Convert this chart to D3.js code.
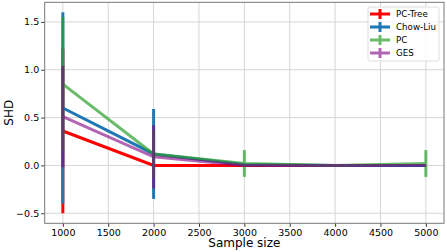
<!DOCTYPE html>
<html>
<head>
<meta charset="utf-8">
<script src="https://cdn.jsdelivr.net/npm/d3@7"></script>
<style>
  body { margin: 0; background: #fff; }
  svg { display: block; font-family: "DejaVu Sans", sans-serif; }
</style>
</head>
<body>
<svg id="chart" width="447" height="252"></svg>
<script>
// values
var sampleSizes = [1000, 2000, 3000, 4000, 5000];
var pcTreeMean = [0.36, 0.0, 0.0, 0.0, 0.0];
var pcTreeErr = [0.86, 0.0, 0.0, 0.0, 0.0];
var chowLiuMean = [0.60, 0.12, 0.01, 0.0, 0.0];
var chowLiuErr = [1.00, 0.47, 0.0, 0.0, 0.0];
var pcMean = [0.85, 0.12, 0.02, 0.0, 0.02];
var pcErr = [0.70, 0.25, 0.14, 0.0, 0.14];
var gesMean = [0.51, 0.09, 0.0, 0.0, 0.0];
var gesErr = [0.53, 0.33, 0.0, 0.0, 0.0];
var xTicks = [1000, 1500, 2000, 2500, 3000, 3500, 4000, 4500, 5000];
var yTicks = [-0.5, 0.0, 0.5, 1.0, 1.5];

var series = [
  {name: 'PC-Tree', mean: pcTreeMean, err: pcTreeErr, color: '#ff0000', alpha: 1},
  {name: 'Chow-Liu', mean: chowLiuMean, err: chowLiuErr, color: '#1f77b4', alpha: 1},
  {name: 'PC', mean: pcMean, err: pcErr, color: '#2ca02c', alpha: 0.7},
  {name: 'GES', mean: gesMean, err: gesErr, color: '#800080', alpha: 0.6}
];

var svg = d3.select('#chart');
var mLeft = 44.7, mRight = 444, mTop = 2.3, mBottom = 223.3;

var x = d3.scaleLinear().domain([800, 5200]).range([mLeft, mRight]);
var y = d3.scaleLinear().domain([-0.605, 1.705]).range([mBottom, mTop]);

// grid
var grid = svg.append('g');
grid.selectAll('.gx').data(xTicks).enter().append('line')
  .attr('x1', function(d) { return x(d); }).attr('x2', function(d) { return x(d); })
  .attr('y1', mTop).attr('y2', mBottom)
  .attr('stroke', '#d6d6d6').attr('stroke-width', 1);
grid.selectAll('.gy').data(yTicks).enter().append('line')
  .attr('x1', mLeft).attr('x2', mRight)
  .attr('y1', function(d) { return y(d); }).attr('y2', function(d) { return y(d); })
  .attr('stroke', '#d6d6d6').attr('stroke-width', 1);

// series: line then error bars
var line = d3.line()
  .x(function(d, i) { return x(sampleSizes[i]); })
  .y(function(d) { return y(d); });

series.forEach(function(s) {
  var g = svg.append('g').attr('opacity', s.alpha);
  g.append('path')
    .attr('d', line(s.mean))
    .attr('fill', 'none')
    .attr('stroke', s.color)
    .attr('stroke-width', 3);
  g.selectAll('.eb').data(s.mean).enter().append('line')
    .attr('x1', function(d, i) { return x(sampleSizes[i]); })
    .attr('x2', function(d, i) { return x(sampleSizes[i]); })
    .attr('y1', function(d, i) { return y(d - s.err[i]); })
    .attr('y2', function(d, i) { return y(d + s.err[i]); })
    .attr('stroke', s.color)
    .attr('stroke-width', 3);
});

// axes
var fmt = function(d) { return d3.format('.1f')(d).replace('-', '\u2212'); };
var xAxis = svg.append('g').attr('transform', 'translate(0,' + mBottom + ')')
  .call(d3.axisBottom(x).tickValues(xTicks).tickSize(3.5).tickPadding(2).tickFormat(d3.format('d')));
var yAxis = svg.append('g').attr('transform', 'translate(' + mLeft + ',0)')
  .call(d3.axisLeft(y).tickValues(yTicks).tickSize(3.5).tickPadding(2).tickFormat(fmt));
[xAxis, yAxis].forEach(function(a) {
  a.select('.domain').remove();
  a.selectAll('line').attr('stroke', '#333');
  a.selectAll('text').attr('font-size', '9.5px').attr('fill', '#000')
    .attr('font-family', '"DejaVu Sans", sans-serif');
});

// spines
svg.append('rect')
  .attr('x', mLeft).attr('y', mTop)
  .attr('width', mRight - mLeft).attr('height', mBottom - mTop)
  .attr('fill', 'none').attr('stroke', '#777').attr('stroke-width', 1);

svg.append('text').attr('x', (mLeft + mRight) / 2).attr('y', 247)
  .attr('text-anchor', 'middle').attr('font-size', '12px').text('Sample size');
svg.append('text')
  .attr('transform', 'translate(13,' + ((mTop + mBottom) / 2) + ') rotate(-90)')
  .attr('text-anchor', 'middle').attr('font-size', '12px').text('SHD');

// legend
var lg = svg.append('g');
lg.append('rect').attr('x', 368).attr('y', 7).attr('width', 71).attr('height', 54)
  .attr('rx', 2).attr('fill', 'rgba(255,255,255,0.8)').attr('stroke', '#ddd');
series.forEach(function(s, i) {
  var yy = 14 + i * 13;
  var h = lg.append('g').attr('opacity', s.alpha);
  h.append('line').attr('x1', 370).attr('x2', 390).attr('y1', yy).attr('y2', yy)
    .attr('stroke', s.color).attr('stroke-width', 3);
  h.append('line').attr('x1', 380).attr('x2', 380).attr('y1', yy - 5).attr('y2', yy + 5)
    .attr('stroke', s.color).attr('stroke-width', 3);
  lg.append('text').attr('x', 396).attr('y', yy).attr('dy', '0.35em')
    .attr('font-size', '8.7px').text(s.name);
});
</script>
</body>
</html>
